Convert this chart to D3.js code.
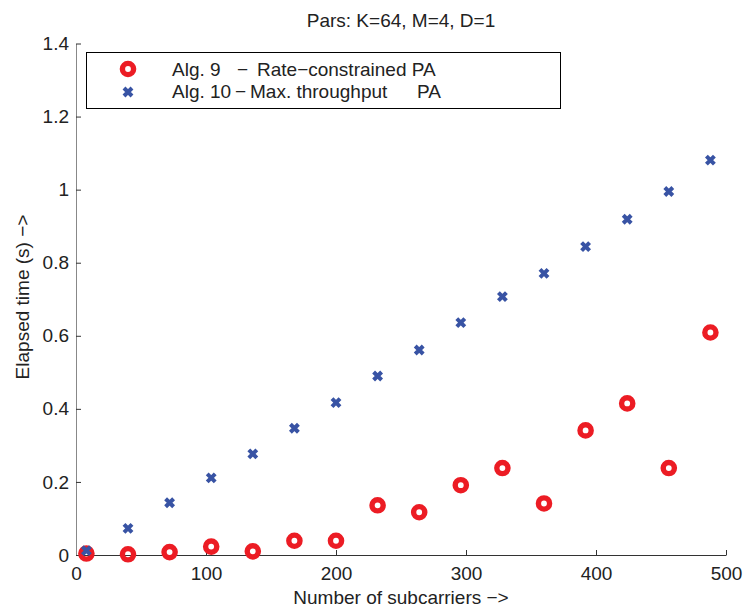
<!DOCTYPE html>
<html>
<head>
<meta charset="utf-8">
<script src="https://cdn.jsdelivr.net/npm/d3@7"></script>
<style>
  body { margin: 0; background: #fff; }
  text { font-family: "Liberation Sans", Arial, Helvetica, sans-serif; fill: #222; }
</style>
</head>
<body>
<script>
// data
var subcarriers = [8, 40, 72, 104, 136, 168, 200, 232, 264, 296, 328, 360, 392, 424, 456, 488];
var alg9 = [0.004, 0.002, 0.008, 0.023, 0.010, 0.039, 0.039, 0.136, 0.117, 0.191, 0.238, 0.141, 0.341, 0.415, 0.238, 0.609];
var alg10 = [0.012, 0.073, 0.143, 0.211, 0.277, 0.347, 0.417, 0.490, 0.561, 0.636, 0.707, 0.771, 0.844, 0.919, 0.995, 1.081];
var xTicks = [0, 100, 200, 300, 400, 500];
var yTicks = [0, 0.2, 0.4, 0.6, 0.8, 1, 1.2, 1.4];
var yTickLabels = ["0", "0.2", "0.4", "0.6", "0.8", "1", "1.2", "1.4"];
var seriesNames = ["Alg. 9", "Alg. 10"];
var seriesDesc = ["Rate\u2212constrained PA", "Max. throughput"];

var W = 745, H = 610;
var margin = { top: 43.5, right: 19, bottom: 55, left: 76 },
    width = W - margin.left - margin.right,
    height = H - margin.top - margin.bottom;

var red = "#ec1c24", blue = "#3853a4";

var svg = d3.select("body").append("svg")
    .attr("width", W)
    .attr("height", H);

var g = svg.append("g")
    .attr("transform", "translate(" + margin.left + "," + margin.top + ")");

var x = d3.scaleLinear().domain([0, 500]).range([0, width]);
var y = d3.scaleLinear().domain([0, 1.4]).range([height, 0]);

// x axis
var xAxis = g.append("g")
    .attr("transform", "translate(0," + height + ")")
    .call(d3.axisBottom(x).tickValues(xTicks).tickSizeInner(-5).tickSizeOuter(0).tickPadding(12));
xAxis.select(".domain").attr("stroke", "#333");
xAxis.selectAll(".tick line").attr("stroke", "#333");
xAxis.selectAll("text").style("font-size", "19px").attr("fill", "#222");

// y axis
var yAxis = g.append("g")
    .call(d3.axisLeft(y).tickValues(yTicks)
        .tickFormat(function (d, i) { return yTickLabels[i]; })
        .tickSizeInner(-5).tickSizeOuter(0).tickPadding(7));
yAxis.select(".domain").attr("stroke", "#888");
yAxis.selectAll(".tick line").attr("stroke", "#333");
yAxis.selectAll("text").style("font-size", "19px").attr("fill", "#222");

// title and labels
svg.append("text")
    .attr("x", margin.left + width / 2)
    .attr("y", 27)
    .attr("text-anchor", "middle")
    .style("font-size", "19px")
    .text("Pars: K=64, M=4, D=1");

svg.append("text")
    .attr("x", margin.left + width / 2)
    .attr("y", 604)
    .attr("text-anchor", "middle")
    .style("font-size", "19px")
    .text("Number of subcarriers \u2212>");

svg.append("text")
    .attr("transform", "translate(29," + 297 + ") rotate(-90)")
    .attr("text-anchor", "middle")
    .style("font-size", "19px")
    .text("Elapsed time (s) \u2212>");

// markers
var cross = "M-4,-4L4,4M-4,4L4,-4";

g.selectAll(".ring")
    .data(alg9)
    .enter().append("circle")
    .attr("class", "ring")
    .attr("cx", function (d, i) { return x(subcarriers[i]); })
    .attr("cy", function (d) { return y(d); })
    .attr("r", 5.6)
    .attr("fill", "none")
    .attr("stroke", red)
    .attr("stroke-width", 5.4);

g.selectAll(".cross")
    .data(alg10)
    .enter().append("path")
    .attr("class", "cross")
    .attr("transform", function (d, i) { return "translate(" + x(subcarriers[i]) + "," + y(d) + ")"; })
    .attr("d", cross)
    .attr("stroke", blue)
    .attr("stroke-width", 4);

// legend
var leg = svg.append("g");
leg.append("rect")
    .attr("x", 86.5).attr("y", 52.5)
    .attr("width", 474).attr("height", 56)
    .attr("fill", "#fff")
    .attr("stroke", "#000")
    .attr("stroke-width", 1);

leg.append("circle")
    .attr("cx", 128).attr("cy", 69)
    .attr("r", 5.6)
    .attr("fill", "none")
    .attr("stroke", red)
    .attr("stroke-width", 5.4);
leg.append("path")
    .attr("transform", "translate(128,92)")
    .attr("d", cross)
    .attr("stroke", blue)
    .attr("stroke-width", 4);

var rowY = [75.5, 98];
var dashX = [237, 235];
var descX = [257, 250];

leg.selectAll(".lname")
    .data(seriesNames)
    .enter().append("text")
    .attr("x", 172)
    .attr("y", function (d, i) { return rowY[i]; })
    .style("font-size", "19px")
    .text(function (d) { return d; });

leg.selectAll(".ldash")
    .data(seriesNames)
    .enter().append("text")
    .attr("x", function (d, i) { return dashX[i]; })
    .attr("y", function (d, i) { return rowY[i]; })
    .style("font-size", "19px")
    .text("\u2212");

leg.selectAll(".ldesc")
    .data(seriesDesc)
    .enter().append("text")
    .attr("x", function (d, i) { return descX[i]; })
    .attr("y", function (d, i) { return rowY[i]; })
    .style("font-size", "19px")
    .text(function (d) { return d; });

leg.append("text")
    .attr("x", 417)
    .attr("y", rowY[1])
    .style("font-size", "19px")
    .text("PA");
</script>
</body>
</html>
